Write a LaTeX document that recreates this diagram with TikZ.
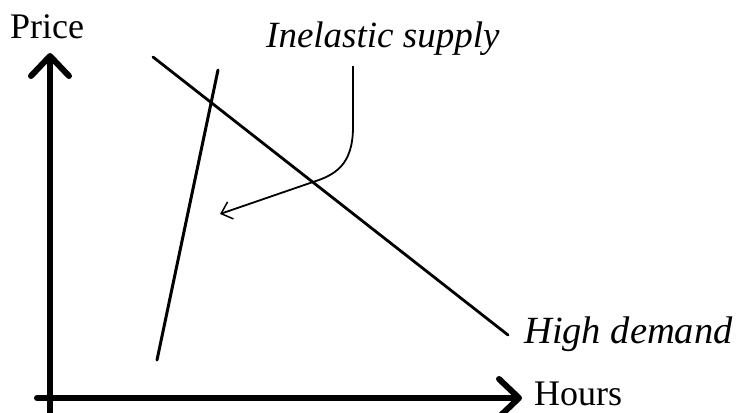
\documentclass[tikz,border=0pt]{standalone}
\usepackage{fontspec}
\setmainfont{Liberation Serif}
\usetikzlibrary{arrows.meta}
\begin{document}
\begin{tikzpicture}[x=1pt,y=-1pt,
  axis/.style={line width=6pt, line cap=round, line join=round,
    -{Straight Barb[length=20pt,width=38pt,line cap=round,line join=round]}},
  curveline/.style={line width=3pt, line cap=round},
  pointer/.style={line width=1.8pt,
    -{Straight Barb[length=10pt,width=18pt,line width=1.5pt]}},
  lbl/.style={inner sep=0pt, anchor=base west, font=\fontsize{36}{40}\selectfont},
  ilbl/.style={inner sep=0pt, anchor=base west, font=\fontsize{37}{40}\selectfont\itshape}]
\useasboundingbox (0,0) rectangle (743,412);
% axes
\coordinate (yb) at (50,415);
\coordinate (yt) at (50,53);
\coordinate (xl) at (37,398);
\coordinate (xr) at (522,398);
\draw[axis] (yb) -- (yt);
\draw[axis] (xl) -- (xr);
% labels
\node[lbl] (price) at (10,39) {Price};
\node[lbl] (hours) at (534,405) {Hours};
\node[ilbl] (inel) at (266,48) {Inelastic supply};
\node[ilbl, font=\fontsize{38.5}{40}\selectfont\itshape] (high) at (524,343) {High demand};
% demand line
\coordinate (d1) at (153,57);
\coordinate (d2) at (508,335);
\draw[curveline, line width=2.8pt] (d1) -- (d2);
% supply line
\coordinate (s1) at (157,360);
\coordinate (s2) at (218,70);
\draw[curveline] (s1) -- (s2);
% curved pointer
\coordinate (c0) at (353,66);
\coordinate (c1) at (353,127);
\coordinate (c2) at (313,182);
\coordinate (c3) at (220,214);
\draw[pointer] (c0) -- (c1) .. controls (353,165) and (335,175) .. (c2) -- (c3);
\end{tikzpicture}
\end{document}
